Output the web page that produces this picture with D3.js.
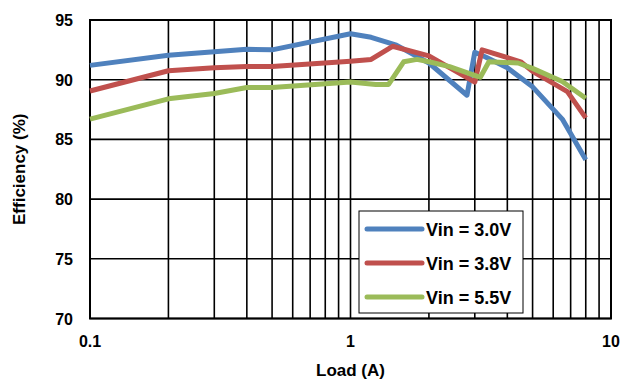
<!DOCTYPE html>
<html>
<head>
<meta charset="utf-8">
<script src="https://cdn.jsdelivr.net/npm/d3@7"></script>
<style>
  body { margin: 0; background: #fff; }
  text { font-family: Arial, "Liberation Sans", sans-serif; font-weight: bold; fill: #000; }
</style>
</head>
<body>
<div id="graph"></div>
<script>
// series
var load30 = [0.1, 0.2, 0.3, 0.4, 0.5, 1.0, 1.2, 1.5, 2.0, 2.8, 3.0, 3.3, 4.0, 5.0, 6.5, 8.0]
var eff30  = [91.2, 92.05, 92.35, 92.55, 92.5, 93.85, 93.55, 92.9, 91.4, 88.7, 92.3, 91.9, 91.0, 89.4, 86.7, 83.3]

var load38 = [0.1, 0.2, 0.3, 0.4, 0.5, 1.0, 1.2, 1.45, 2.0, 3.0, 3.2, 4.5, 5.0, 6.8, 8.0]
var eff38  = [89.05, 90.75, 91.0, 91.1, 91.1, 91.55, 91.7, 92.8, 92.0, 89.8, 92.5, 91.5, 90.7, 89.0, 86.8]

var load55 = [0.1, 0.2, 0.3, 0.4, 0.5, 1.0, 1.25, 1.4, 1.6, 1.8, 2.0, 2.4, 3.15, 3.4, 4.4, 5.0, 6.5, 8.0]
var eff55  = [86.7, 88.4, 88.85, 89.35, 89.35, 89.8, 89.6, 89.6, 91.5, 91.7, 91.5, 91.1, 90.2, 91.5, 91.4, 90.95, 89.85, 88.45]

var seriesNames = ['Vin = 3.0V', 'Vin = 3.8V', 'Vin = 5.5V']
var colors = ['#4F81BD', '#C0504D', '#9BBB59']
var yTicks = [70, 75, 80, 85, 90, 95]
var xTickLabels = [0.1, 1, 10]

var series = [
  {name: seriesNames[0], color: colors[0], pts: load30.map((x, i) => [x, eff30[i]])},
  {name: seriesNames[1], color: colors[1], pts: load38.map((x, i) => [x, eff38[i]])},
  {name: seriesNames[2], color: colors[2], pts: load55.map((x, i) => [x, eff55[i]])}
]

var W = 621, H = 379
var margin = {left: 90, right: 10, top: 20, bottom: 60.5}
var width = W - margin.left - margin.right
var height = H - margin.top - margin.bottom

var svg = d3.select('#graph').append('svg')
  .attr('width', W).attr('height', H)

var g = svg.append('g').attr('transform', `translate(${margin.left},${margin.top})`)

var x = d3.scaleLog().domain([0.1, 10]).range([0, width])
var y = d3.scaleLinear().domain([70, 95]).range([height, 0])

// minor log grid: 0.1..0.9, 1..9, 10
var xGrid = []
;[0.1, 1].forEach(dec => { for (var k = 1; k <= 9; k++) xGrid.push(+(dec * k).toFixed(2)) })
xGrid.push(10)

g.selectAll('line.vgrid').data(xGrid).join('line')
  .attr('class', 'vgrid')
  .attr('x1', d => x(d)).attr('x2', d => x(d))
  .attr('y1', 0).attr('y2', height)
  .attr('stroke', '#000').attr('stroke-width', 1.6)

g.selectAll('line.hgrid').data(yTicks).join('line')
  .attr('class', 'hgrid')
  .attr('x1', 0).attr('x2', width)
  .attr('y1', d => y(d)).attr('y2', d => y(d))
  .attr('stroke', '#000').attr('stroke-width', 1.6)

g.append('rect')
  .attr('width', width).attr('height', height)
  .attr('fill', 'none').attr('stroke', '#000').attr('stroke-width', 2)

// tick labels
g.selectAll('text.ylab').data(yTicks).join('text')
  .attr('class', 'ylab')
  .attr('x', -17).attr('y', d => y(d) + 6)
  .attr('text-anchor', 'end')
  .style('font-size', '16px')
  .text(d => d)

g.selectAll('text.xlab').data(xTickLabels).join('text')
  .attr('class', 'xlab')
  .attr('x', d => x(d)).attr('y', height + 28)
  .attr('text-anchor', 'middle')
  .style('font-size', '16px')
  .text(d => d)

// axis titles
svg.append('text')
  .attr('x', margin.left + width / 2).attr('y', 376)
  .attr('text-anchor', 'middle')
  .style('font-size', '17px')
  .text('Load (A)')

svg.append('text')
  .attr('transform', `translate(25,${margin.top + height / 2}) rotate(-90)`)
  .attr('text-anchor', 'middle')
  .style('font-size', '17px')
  .text('Efficiency (%)')

// curves
var line = d3.line().x(d => x(d[0])).y(d => y(d[1]))

g.selectAll('path.series').data(series).join('path')
  .attr('class', 'series')
  .attr('d', d => line(d.pts))
  .attr('fill', 'none')
  .attr('stroke', d => d.color)
  .attr('stroke-width', 5)
  .attr('stroke-linejoin', 'round')

// legend
var leg = svg.append('g').attr('transform', 'translate(359,211)')
leg.append('rect')
  .attr('width', 164).attr('height', 102)
  .attr('fill', '#fff').attr('stroke', '#000').attr('stroke-width', 1)

var item = leg.selectAll('g.item').data(series).join('g')
  .attr('class', 'item')
  .attr('transform', (d, i) => `translate(0,${18 + i * 34})`)

item.append('line')
  .attr('x1', 8).attr('x2', 63)
  .attr('stroke', d => d.color).attr('stroke-width', 5)
  .attr('stroke-linecap', 'round')

item.append('text')
  .attr('x', 67).attr('y', 6.5)
  .style('font-size', '18px')
  .text(d => d.name)
</script>
</body>
</html>
